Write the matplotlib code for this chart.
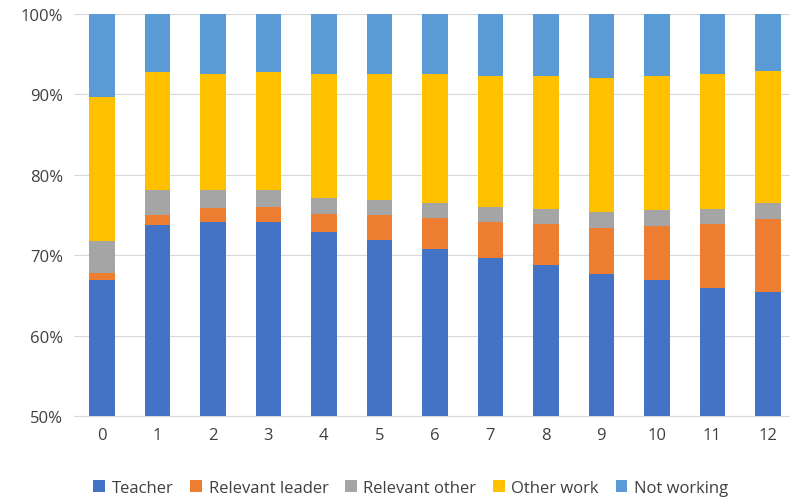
import numpy as np
import matplotlib.pyplot as plt
from matplotlib.ticker import FuncFormatter

years = [str(i) for i in range(13)]
# cumulative tops (percent)
teacher_top = [66.9, 73.8, 74.1, 74.1, 72.9, 71.9, 70.8, 69.7, 68.8, 67.7, 66.9, 65.9, 65.5]
leader_top = [67.8, 75.0, 75.9, 76.0, 75.2, 75.0, 74.6, 74.1, 73.9, 73.4, 73.6, 73.9, 74.5]
other_top = [71.8, 78.1, 78.1, 78.1, 77.1, 76.9, 76.5, 76.0, 75.7, 75.4, 75.6, 75.7, 76.5]
work_top = [89.7, 92.8, 92.5, 92.8, 92.5, 92.5, 92.5, 92.3, 92.3, 92.0, 92.3, 92.5, 92.9]

teacher = np.array(teacher_top)
leader = np.array(leader_top) - np.array(teacher_top)
rel_other = np.array(other_top) - np.array(leader_top)
other_work = np.array(work_top) - np.array(other_top)
not_working = 100 - np.array(work_top)

series = [
    ("Teacher", teacher, "#4472C4"),
    ("Relevant leader", leader, "#ED7D31"),
    ("Relevant other", rel_other, "#A5A5A5"),
    ("Other work", other_work, "#FFC000"),
    ("Not working", not_working, "#5B9BD5"),
]

plt.rcParams["font.family"] = ["Open Sans", "DejaVu Sans"]
fig = plt.figure(figsize=(7.9, 5.02), dpi=100)
ax = fig.add_axes([0.094, 0.169, 0.913, 0.801])

x = np.arange(len(years))
bottom = np.zeros(len(years))
for name, vals, col in series:
    ax.bar(x, vals, 0.46, bottom=bottom, color=col, label=name, zorder=3)
    bottom += vals

ax.set_ylim(50, 100)
ax.set_xlim(-0.5, 12.5)
ax.set_yticks(range(50, 101, 10))
ax.yaxis.set_major_formatter(FuncFormatter(lambda v, p: f"{v:.0f}%"))
ax.set_xticks(x)
ax.set_xticklabels(years)
ax.grid(axis="y", color="#D9D9D9", lw=0.8, zorder=0)
for s in ["top", "right", "left"]:
    ax.spines[s].set_visible(False)
ax.spines["bottom"].set_color("#D9D9D9")
ax.tick_params(length=0, labelsize=12, colors="#404040", pad=8)

fig.legend(loc="lower center", ncol=5, frameon=False, fontsize=12,
           bbox_to_anchor=(0.52, -0.02), handlelength=0.7, handleheight=0.7,
           columnspacing=1.0, handletextpad=0.4, labelcolor="#404040")

fig.savefig("out.png", dpi=100)
